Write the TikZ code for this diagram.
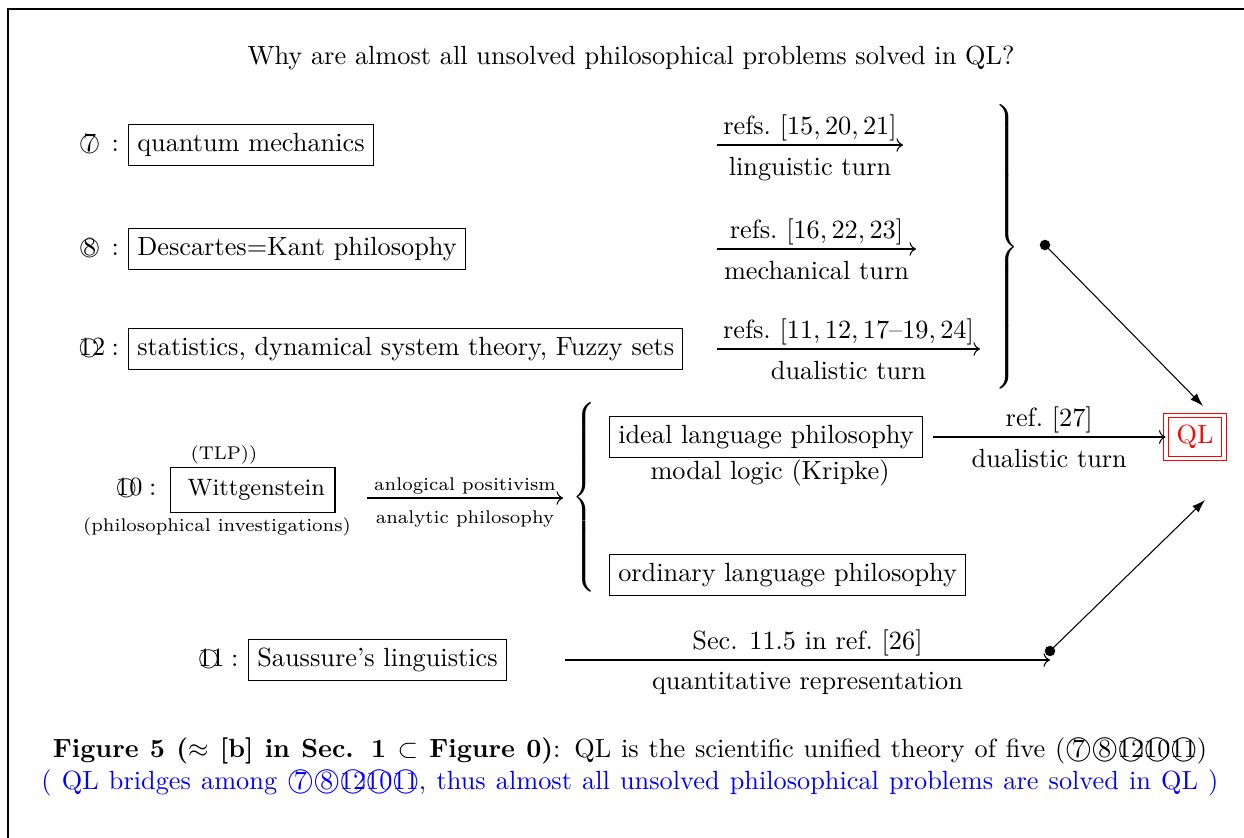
\documentclass[tikz,border=0pt]{standalone}
\usetikzlibrary{arrows.meta}
\newcommand\cnum[1]{{\ooalign{\hfil\hbox{#1}\hfil\crcr\raisebox{0.95pt}{\scalebox{0.78}{$\bigcirc$}}\crcr}}}
\newcommand\ccnum[1]{{\ooalign{\hfil\hbox{#1}\hfil\crcr\raisebox{0.5pt}{$\bigcirc$}\crcr}}}
\begin{document}
\begin{tikzpicture}[x=0.3802pt,y=-0.3802pt,
  box/.style={draw, inner sep=3.33pt, text height=6.9pt, text depth=1.95pt, anchor=west},
  lab/.style={inner sep=0pt, anchor=base east},
  arr/.style={->},
  up/.style={midway, above, yshift=-2.1pt},
  dn/.style={midway, below, yshift=-1.3pt},
  link/.style={-{Latex[length=5pt,width=3.4pt]}},
  blob/.style={circle, fill, inner sep=0pt, minimum size=4pt},
  small/.style={font=\scriptsize}]
\useasboundingbox (0,0) rectangle (1244,838);
\draw[line width=0.5pt] (8,838) -- (8,9) -- (1244,9);

\node (title) at (631,58) {Why are almost all unsolved philosophical problems solved in QL?};

% rows 7, 8, 12
\node[box] (qm) at (128,145) {quantum mechanics};
\node[lab] (l7) at ([xshift=-3.2pt]qm.base west) {\cnum{7}\hspace{4.5pt}:};
\node[box] (dk) at (128,249) {Descartes=Kant philosophy};
\node[lab] (l8) at ([xshift=-3.2pt]dk.base west) {\cnum{8}\hspace{4.5pt}:};
\node[box] (st) at (128,349) {statistics, dynamical system theory, Fuzzy sets};
\node[lab] (l12) at ([xshift=-3.2pt]st.base west) {\cnum{12}\hspace{2.5pt}:};

\coordinate (a1s) at (717,145); \coordinate (a1e) at (903,145);
\coordinate (a2s) at (717,249); \coordinate (a2e) at (916,249);
\coordinate (a3s) at (717,349); \coordinate (a3e) at (980,349);
\draw[arr] (a1s) -- (a1e) node[up] {refs.\ $[15,20,21]$} node[dn] {linguistic turn};
\draw[arr] (a2s) -- (a2e) node[up] {refs.\ $[16,22,23]$} node[dn] {mechanical turn};
\draw[arr] (a3s) -- (a3e) node[up] {refs.\ $[11,12,17\mbox{--}19,24]$} node[dn] {dualistic turn};

\node[inner sep=0pt] (rb) at (1006,247) {$\left.\vrule height 51.5pt depth 51.5pt width 0pt\right\}$};
\node[blob] (d1) at (1045,245) {};
\coordinate (t1) at (1203,406);
\draw[link] (d1.center) -- (t1);

% row 10
\node[draw, inner xsep=3.8pt, minimum height=17pt, font=\small, anchor=west] (wi) at (170,490) {\hspace{2.7pt}Wittgenstein};
\node[lab] (l10) at ([xshift=-5pt]wi.base west) {\cnum{10}\hspace{2.5pt}:};
\node[small] (tlp) at (224,455) {(TLP))};
\node[small] (pi) at (217,527) {(philosophical investigations)};
\coordinate (a10s) at (367,498); \coordinate (a10e) at (563,498);
\draw[arr] (a10s) -- (a10e) node[midway,above,small,inner sep=2pt,yshift=-0.7pt] {anlogical positivism} node[midway,below,small,inner sep=2.5pt,yshift=-2.3pt] {analytic philosophy};
\node[inner sep=0pt] (lb) at (586,500) {$\left\{\vrule height 35.5pt depth 35.5pt width 0pt\right.$};

\node[box] (il) at (609,437) {ideal language philosophy};
\node (ml) at (770,473) {modal logic (Kripke)};
\node[box] (ol) at (609,575) {ordinary language philosophy};
\coordinate (a4s) at (933,437);
\node[draw=red, double=white, double distance=1.2pt, text=red, inner xsep=4pt, inner ysep=3.8pt] (ql) at (1195,437) {QL};
\draw[arr] (a4s) -- (ql.west) node[up] {ref.\ $[27]$} node[dn] {dualistic turn};

% row 11
\node[box] (sa) at (248,660) {Saussure's linguistics};
\node[lab] (l11) at ([xshift=-3.4pt]sa.base west) {\cnum{11}\hspace{2.5pt}:};
\coordinate (a11s) at (565,660); \coordinate (a11e) at (1050,660);
\draw[arr] (a11s) -- (a11e) node[up] {Sec. 11.5 in ref.\ $[26]$} node[dn] {quantitative representation};
\node[blob] (d2) at (1050,651) {};
\coordinate (t2) at (1205,500);
\draw[link] (d2.center) -- (t2);

% caption
\node (cap1) at (630,751) {\makebox[438.8pt][s]{\textbf{Figure 5 ($\approx$ [b] in Sec. 1 $\subset$ Figure 0)}: QL is the scientific unified theory of five (\ccnum{7}\ccnum{8}\ccnum{12}\ccnum{10}\ccnum{11})}};
\node[text=blue] (cap2) at (630,783) {\makebox[447.5pt][s]{( QL bridges among \ccnum{7}\ccnum{8}\ccnum{12}\ccnum{10}\ccnum{11}, thus almost all unsolved philosophical problems are solved in QL )}};
\end{tikzpicture}
\end{document}
